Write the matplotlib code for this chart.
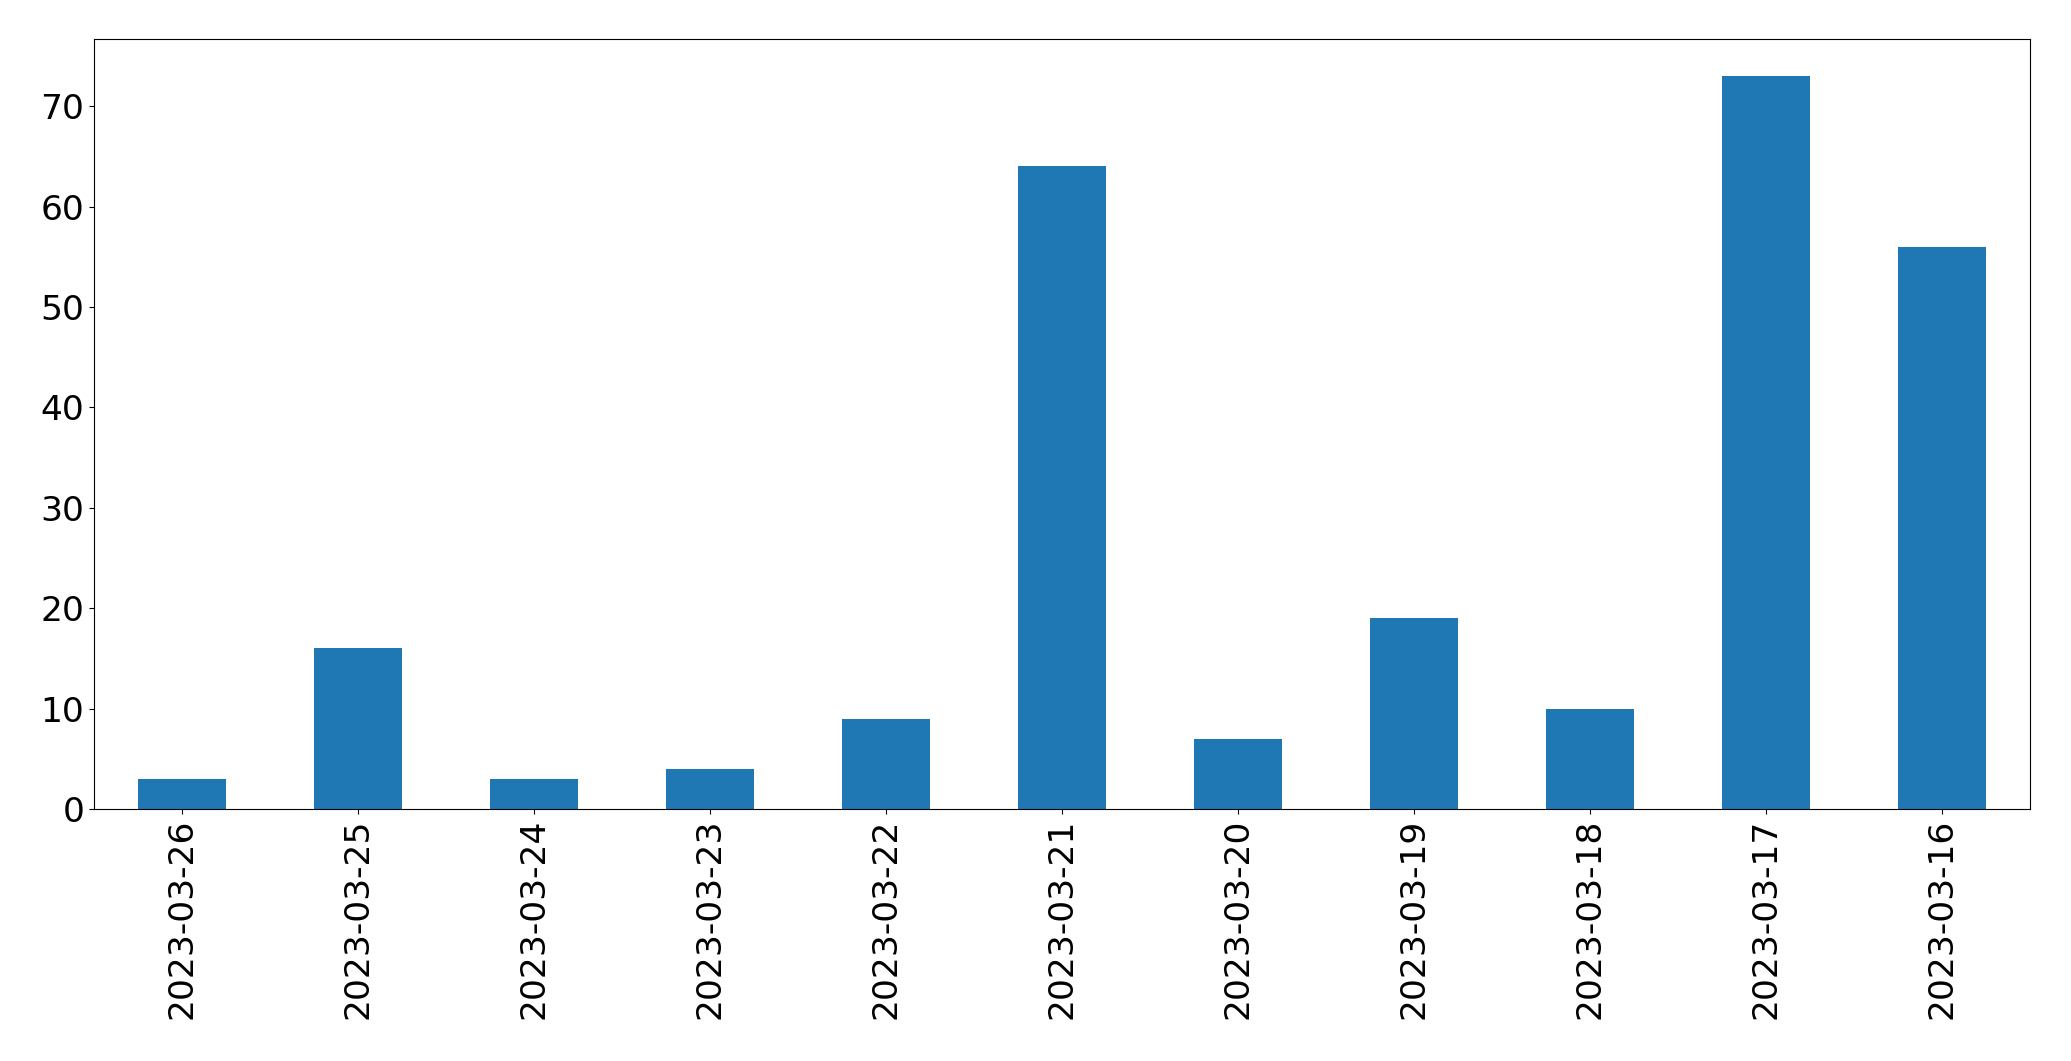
import matplotlib
matplotlib.use("Agg")
import matplotlib.pyplot as plt
import pandas as pd

dates = ["2023-03-26", "2023-03-25", "2023-03-24", "2023-03-23", "2023-03-22",
         "2023-03-21", "2023-03-20", "2023-03-19", "2023-03-18", "2023-03-17",
         "2023-03-16"]
counts = [3, 16, 3, 4, 9, 64, 7, 19, 10, 73, 56]

s = pd.Series(counts, index=dates)
fig, ax = plt.subplots(figsize=(20.71, 10.61), dpi=100)
s.plot(kind="bar", ax=ax, color="#1f77b4")
ax.tick_params(axis="both", labelsize=24.8)
fig.subplots_adjust(left=0.0454, right=0.9802, top=0.9628, bottom=0.2375)
fig.savefig("out.png", dpi=100)
